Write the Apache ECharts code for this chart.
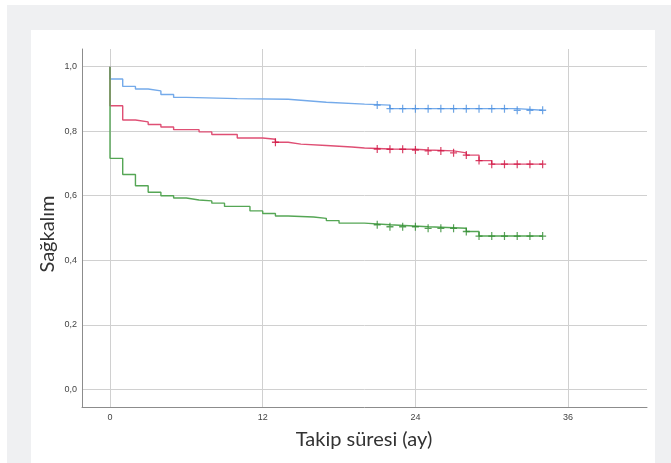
<!DOCTYPE html>
<html><head><meta charset="utf-8">
<script src="https://cdn.jsdelivr.net/npm/echarts@6/dist/echarts.min.js"></script>
<style>
html,body{margin:0;padding:0;background:#fff;width:671px;height:463px;overflow:hidden}
#frame{position:absolute;left:7px;top:5px;width:664px;height:458px;background:#eff0f2}
#panel{position:absolute;left:31px;top:30px;width:624px;height:433px;background:#fff}
#chart{position:absolute;left:0;top:0;width:671px;height:463px}
</style></head>
<body>
<div id="frame"></div><div id="panel"></div><div id="chart"></div>
<script>
// Kaplan-Meier steps: [time (months), survival]
const blueSteps = [[0,1],[0,0.962],[1,0.939],[2,0.931],[3,0.925],[4,0.914],[5,0.905],[6,0.901],[10,0.899],[14,0.896],[15,0.890],[17,0.884],[20,0.881],[22,0.870],[32,0.865],[34,0.865]];
const redSteps = [[0,1],[0,0.879],[1,0.835],[2,0.829],[3,0.821],[4,0.813],[5,0.805],[7,0.798],[8,0.790],[10,0.779],[12,0.775],[13,0.766],[14,0.760],[15,0.756],[17,0.751],[19,0.748],[20,0.745],[22,0.744],[24,0.742],[25,0.739],[27,0.733],[28,0.726],[29,0.709],[30,0.698],[34,0.698]];
const greenSteps = [[0,1],[0,0.716],[1,0.666],[2,0.631],[3,0.611],[4,0.600],[5,0.593],[6,0.587],[7,0.584],[8,0.577],[9,0.567],[11,0.553],[12,0.545],[13,0.537],[14,0.534],[16,0.530],[17,0.523],[18,0.515],[20,0.510],[22,0.504],[25,0.499],[28,0.489],[29,0.475],[34,0.475]];
// censored observations
const blueCensor = [[21,0.881],[22,0.870],[23,0.870],[24,0.870],[25,0.870],[26,0.870],[27,0.870],[28,0.870],[29,0.870],[30,0.870],[31,0.870],[32,0.865],[33,0.865],[34,0.865]];
const redCensor = [[13,0.766],[21,0.745],[22,0.744],[23,0.744],[24,0.742],[25,0.739],[26,0.739],[27,0.733],[28,0.726],[29,0.709],[30,0.698],[31,0.698],[32,0.698],[33,0.698],[34,0.698]];
const greenCensor = [[21,0.510],[22,0.504],[23,0.504],[24,0.504],[25,0.499],[26,0.499],[27,0.499],[28,0.489],[29,0.475],[30,0.475],[31,0.475],[32,0.475],[33,0.475],[34,0.475]];
const xTicks = [0,12,24,36];
const yTicks = [0,0.2,0.4,0.6,0.8,1.0];
const xTitle = 'Takip süresi (ay)';
const yTitle = 'Sağkalım';

const titleFont = 'Lato, "Open Sans", sans-serif';
const tickFont = '"Liberation Sans", Arial, sans-serif';
const plus = 'path://M-0.17,-1H0.17V-0.17H1V0.17H0.17V1H-0.17V0.17H-1V-0.17H-0.17Z';
const colors = {blue:['#74aaea','#4a8fe0'], red:['#df4f74','#d0103f'], green:['#55a655','#2e8b2e']};
function lineSeries(data,c){return {type:'line',data:data,step:'end',showSymbol:false,symbol:'none',lineStyle:{color:c[0],width:1.4},z:2,silent:true};}
function censorSeries(data,c){return {type:'scatter',data:data,symbol:plus,symbolSize:[7,8],itemStyle:{color:c[1]},z:3,silent:true};}

const chart = echarts.init(document.getElementById('chart'),null,{renderer:'canvas'});
chart.setOption({
  animation:false,
  backgroundColor:'transparent',
  grid:{left:82,right:24,top:49,bottom:56,containLabel:false},
  graphic:[
    {type:'text',x:48,y:234,rotation:Math.PI/2,silent:true,
     style:{text:yTitle,align:'center',verticalAlign:'middle',font:'20px '+titleFont,fill:'#333'}},
    {type:'text',x:364,y:440,silent:true,
     style:{text:xTitle,align:'center',verticalAlign:'middle',font:'20px '+titleFont,fill:'#333'}}
  ],
  xAxis:{type:'value',min:-2.2,max:42.2,
    axisLine:{show:true,onZero:false,lineStyle:{color:'#8c8c8c',width:1}},
    axisTick:{show:false,customValues:xTicks},
    axisLabel:{customValues:xTicks,fontFamily:tickFont,fontSize:9,color:'#444',margin:6},
    splitLine:{show:true,lineStyle:{color:'#d0d0d0',width:1}}},
  yAxis:{type:'value',min:-0.055,max:1.055,
    axisLine:{show:true,onZero:false,lineStyle:{color:'#8c8c8c',width:1}},
    axisTick:{show:false,customValues:yTicks},
    axisLabel:{customValues:yTicks,formatter:v=>v.toFixed(1).replace('.',','),fontFamily:tickFont,fontSize:9,color:'#444',margin:5},
    splitLine:{show:true,lineStyle:{color:'#d0d0d0',width:1}}},
  series:[
    lineSeries(blueSteps,colors.blue),lineSeries(redSteps,colors.red),lineSeries(greenSteps,colors.green),
    censorSeries(blueCensor,colors.blue),censorSeries(redCensor,colors.red),censorSeries(greenCensor,colors.green)
  ]
});
</script></body></html>
